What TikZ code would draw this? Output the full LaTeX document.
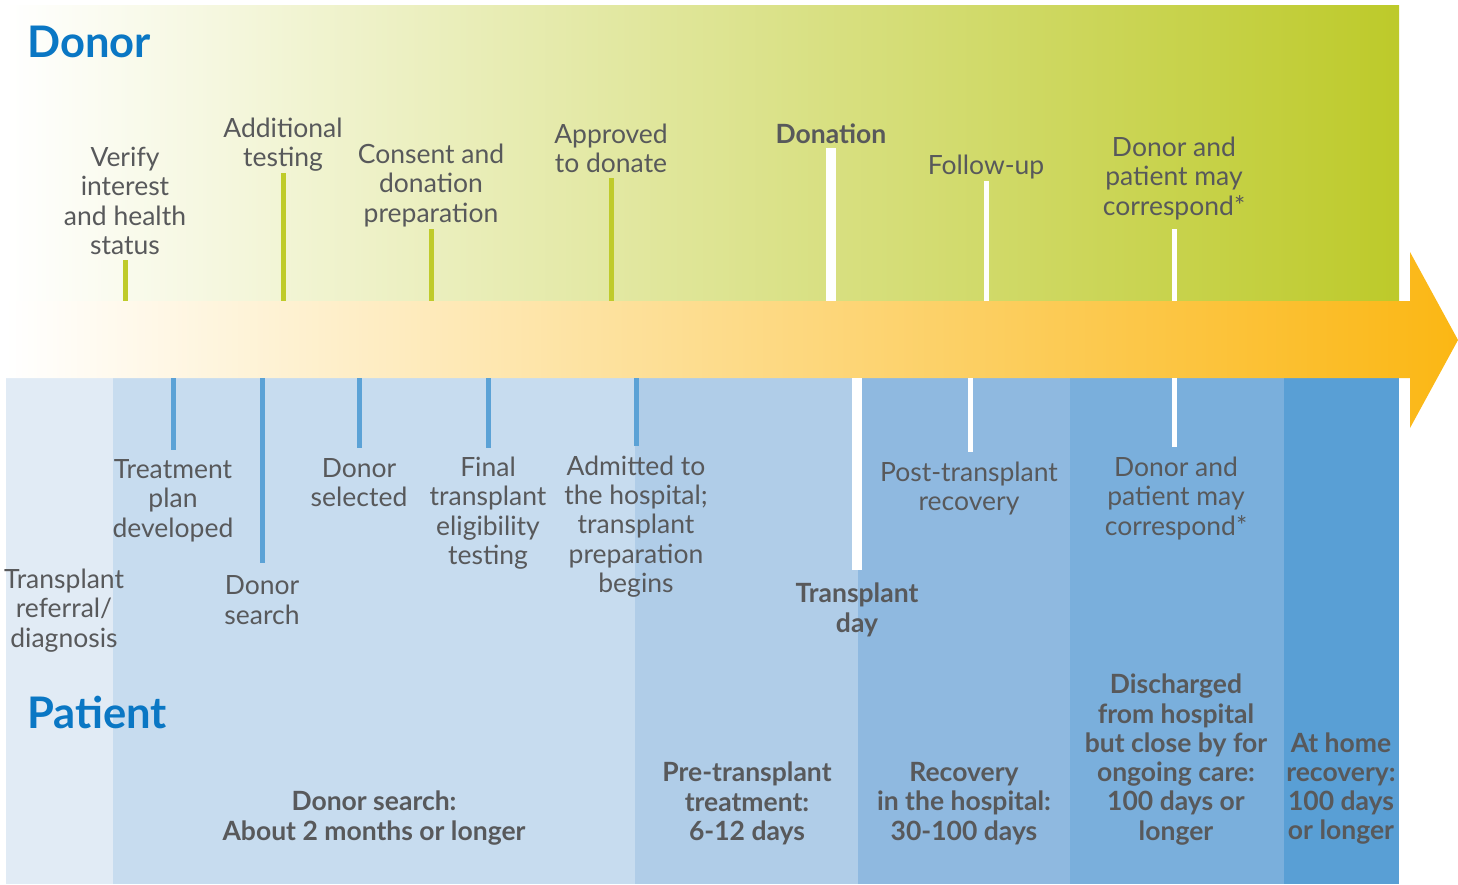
\documentclass[tikz,border=0pt]{standalone}
\usepackage{fontspec}
\setmainfont{Lato}
\newfontfamily\boldf{Lato Bold}
\definecolor{txt}{HTML}{58595B}
\definecolor{ttl}{HTML}{0A77C4}
\definecolor{gtop}{HTML}{BDCA2A}
\definecolor{otop}{HTML}{FBB714}
\definecolor{gtick}{HTML}{BFCB2A}
\definecolor{btick}{HTML}{5BA2D6}
\definecolor{bA}{HTML}{E1EBF5}
\definecolor{bB}{HTML}{C7DCEF}
\definecolor{bC}{HTML}{B0CDE8}
\definecolor{bD}{HTML}{8FB9E0}
\definecolor{bE}{HTML}{7AAFDC}
\definecolor{bF}{HTML}{599FD5}
\tikzset{
  lbl/.style={align=center, inner sep=0pt, yshift=-2pt, text=txt, font=\fontsize{26.5}{29.3}\selectfont},
  blbl/.style={align=center, inner sep=0pt, yshift=-1.5pt, text=txt, font=\boldf\fontsize{26.5}{29.3}\selectfont},
  phase/.style={align=center, inner sep=0pt, yshift=-1.5pt, text=txt, font=\boldf\fontsize{26.5}{29.3}\selectfont},
  title/.style={anchor=west, inner sep=0pt, text=ttl, font=\boldf\fontsize{43.5}{48}\selectfont},
  gt/.style={gtick, line width=5pt},
  bt/.style={btick, line width=5pt},
  wthick/.style={white, line width=10.5pt},
  wthin/.style={white, line width=5pt}
}
\begin{document}
\begin{tikzpicture}[x=1pt,y=-1pt]
\useasboundingbox (0,0) rectangle (1458,884);
% top gradient
\shade[left color=white, right color=gtop] (6,5) rectangle (1399,301);
% bottom columns
\fill[bA] (6,378) rectangle (113,884);
\fill[bB] (113,378) rectangle (635,884);
\fill[bC] (635,378) rectangle (858,884);
\fill[bD] (858,378) rectangle (1070,884);
\fill[bE] (1070,378) rectangle (1284,884);
\fill[bF] (1284,378) rectangle (1399,884);
% arrow band
\shade[left color=white, right color=otop] (6,301) -- (1410,301) -- (1410,252) -- (1458,340) -- (1410,428) -- (1410,378) -- (6,378) -- cycle;
% titles
\node[title] (donor) at (27,42) {Donor};
\node[title] (patient) at (27,712) {Patient};
% donor labels
\node[lbl] (v1) at (125,199) {Verify\\interest\\and health\\status};
\node[lbl] (v2) at (283,142.5) {Additional\\testing};
\node[lbl] (v3) at (431,183.5) {Consent and\\donation\\preparation};
\node[lbl] (v4) at (611,146.5) {Approved\\to donate};
\node[blbl] (v5) at (831,132) {Donation};
\node[lbl] (v6) at (986,165) {Follow-up};
\node[lbl] (v7) at (1174,176.5) {Donor and\\patient may\\correspond*};
% donor ticks
\draw[gt] (125,260) -- (125,301);
\draw[gt] (283,173) -- (283,301);
\draw[gt] (431,229) -- (431,301);
\draw[gt] (611,178) -- (611,301);
\draw[wthick] (831,148) -- (831,301);
\draw[wthin] (986,181) -- (986,301);
\draw[wthin] (1174,229) -- (1174,301);
% patient labels
\node[lbl] (p1) at (64,608.5) {Transplant\\referral/\\diagnosis};
\node[lbl] (p2) at (173,498.5) {Treatment\\plan\\developed};
\node[lbl] (p3) at (262,598) {Donor\\search};
\node[lbl] (p4) at (359,480.5) {Donor\\selected};
\node[lbl] (p5) at (488,511) {Final\\transplant\\eligibility\\testing};
\node[lbl] (p6) at (636,524.5) {Admitted to\\the hospital;\\transplant\\preparation\\begins};
\node[blbl] (p7) at (857,608.5) {Transplant\\day};
\node[lbl] (p8) at (969,486.5) {Post-transplant\\recovery};
\node[lbl] (p9) at (1176,496.5) {Donor and\\patient may\\correspond*};
% patient ticks
\draw[bt] (173,378) -- (173,450);
\draw[bt] (262,378) -- (262,563);
\draw[bt] (359,378) -- (359,448);
\draw[bt] (488,378) -- (488,448);
\draw[bt] (636,378) -- (636,446);
\draw[wthick] (857,378) -- (857,570);
\draw[wthin] (970,378) -- (970,452);
\draw[wthin] (1174,378) -- (1174,447);
% phases
\node[phase] (d1) at (374,816.5) {Donor search:\\About 2 months or longer};
\node[phase] (d2) at (747,802) {Pre-transplant\\treatment:\\6-12 days};
\node[phase] (d3) at (964,802) {Recovery\\in the hospital:\\30-100 days};
\node[phase] (d4) at (1176,758) {Discharged\\from hospital\\but close by for\\ongoing care:\\100 days or\\longer};
\node[phase] (d5) at (1341,787) {At home\\recovery:\\100 days\\or longer};
\end{tikzpicture}
\end{document}
